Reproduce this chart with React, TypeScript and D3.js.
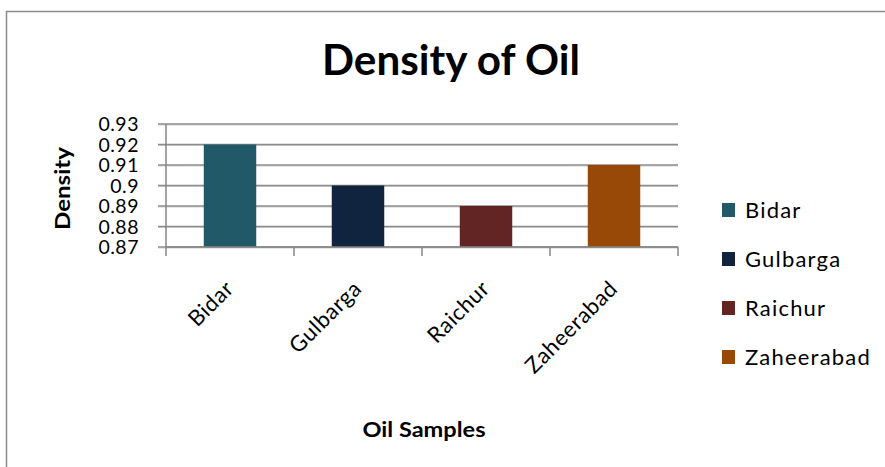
import React from 'react';
import * as d3 from 'd3';

const samples = ['Bidar', 'Gulbarga', 'Raichur', 'Zaheerabad'];
const densities = [0.92, 0.9, 0.89, 0.91];
const barColors = ['#215968', '#10243f', '#632523', '#984807'];
const yTicks = [0.87, 0.88, 0.89, 0.9, 0.91, 0.92, 0.93];

const font = 'Lato, Calibri, "Open Sans", sans-serif';

const App = () => {
  const width = 885;
  const height = 467;
  const plot = { left: 166, right: 678, top: 124, bottom: 247 };

  const x = d3.scaleBand().domain(samples).range([plot.left, plot.right]).paddingInner(0.59).paddingOuter(0.295);
  const band = d3.scaleBand().domain(samples).range([plot.left, plot.right]);
  const y = d3.scaleLinear().domain([0.87, 0.93]).range([plot.bottom, plot.top]);
  const color = d3.scaleOrdinal<string, string>().domain(samples).range(barColors);

  // tick marks sit on the category boundaries
  const edges = [plot.left, ...samples.map((s) => band(s)! + band.bandwidth())];

  return (
    <svg width={width} height={height} style={{ position: 'absolute', left: 0, top: 0 }} fontFamily={font}>
      <rect x={0} y={0} width={width} height={height} fill="#fff" />
      <rect x={6.5} y={11.5} width={1000} height={600} fill="none" stroke="#8a8a8a" strokeWidth={1.5} />

      <text x={451} y={75} textAnchor="middle" fontSize={42} fontWeight="bold" textLength={258} lengthAdjust="spacingAndGlyphs">
        Density of Oil
      </text>

      {/* gridlines + y tick labels */}
      {yTicks.map((t) => (
        <g key={t}>
          <line x1={plot.left - 8} x2={plot.right} y1={y(t) + 1} y2={y(t) + 1} stroke="#d0d0d0" strokeWidth={1} />
          <line x1={plot.left - 8} x2={plot.right} y1={y(t)} y2={y(t)} stroke="#8c8c8c" strokeWidth={1.3} />
          <text x={139} y={y(t) + 7} textAnchor="end" fontSize={19.5} letterSpacing={0.5} fill="#000">
            {String(t)}
          </text>
        </g>
      ))}

      {/* bars */}
      {samples.map((s, i) => (
        <rect key={s} x={x(s)} y={y(densities[i])} width={x.bandwidth()} height={plot.bottom - y(densities[i])} fill={color(s)} />
      ))}

      {/* axes */}
      <line x1={plot.left} x2={plot.left} y1={plot.top} y2={plot.bottom} stroke="#868686" strokeWidth={1.5} />
      <line x1={plot.left} x2={plot.right} y1={plot.bottom} y2={plot.bottom} stroke="#868686" strokeWidth={1.5} />
      {edges.map((e, i) => (
        <line key={i} x1={e} x2={e} y1={plot.bottom} y2={plot.bottom + 9} stroke="#868686" strokeWidth={1.5} />
      ))}

      {/* x labels */}
      {samples.map((s) => {
        const cx = band(s)! + band.bandwidth() / 2;
        return (
          <text key={s} transform={`translate(${cx + 5},${290}) rotate(-45)`} textAnchor="end" fontSize={22} letterSpacing={0.6} fill="#000">
            {s}
          </text>
        );
      })}

      <text transform="translate(70,188.5) rotate(-90)" textAnchor="middle" fontSize={20} fontWeight="bold" textLength={83} lengthAdjust="spacingAndGlyphs">
        Density
      </text>
      <text x={424} y={437} textAnchor="middle" fontSize={20} fontWeight="bold" textLength={123} lengthAdjust="spacingAndGlyphs">
        Oil Samples
      </text>

      {/* legend */}
      {samples.map((s, i) => (
        <g key={s} transform={`translate(722,${210 + i * 49})`}>
          <rect x={0} y={-7} width={13} height={14} fill={color(s)} />
          <text x={23} y={8} fontSize={22} letterSpacing={1.2} fill="#000">
            {s}
          </text>
        </g>
      ))}
    </svg>
  );
};

export default App;
